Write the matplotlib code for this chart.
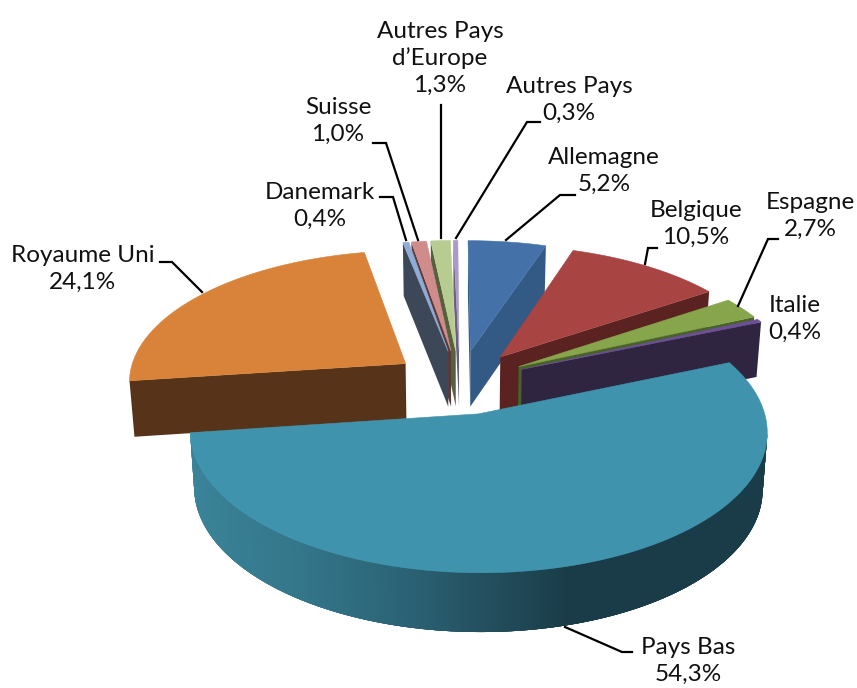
import numpy as np
import matplotlib
matplotlib.use("Agg")
import matplotlib.pyplot as plt
from matplotlib.colors import LinearSegmentedColormap
from matplotlib.patches import Polygon

plt.rcParams['font.family'] = ['Lato', 'DejaVu Sans']

names = ["Allemagne", "Belgique", "Espagne", "Italie", "Pays Bas", "Royaume Uni",
         "Danemark", "Suisse", "Autres Pays\nd\u2019Europe", "Autres Pays"]
values = [5.2, 10.5, 2.7, 0.4, 54.3, 24.1, 0.4, 1.0, 1.3, 0.3]
pct_text = ["5,2%", "10,5%", "2,7%", "0,4%", "54,3%", "24,1%", "0,4%", "1,0%", "1,3%", "0,3%"]
top_colors = ["#4472A8", "#A84442", "#87A54A", "#6E4F96", "#3F93AD", "#D8823A",
              "#8FACD6", "#CF8C8B", "#B7CC90", "#A99BC6"]
wall_colors = ["#325A84", "#5A2322", "#47622A", "#2F2540", "#1F5060", "#573419",
               "#3C4858", "#5C3A3A", "#55603F", "#6A6078"]
# gradient along the Pays Bas rim, left to right
rim_stops = [(0.0, "#3A8398"), (0.19, "#34768A"), (0.37, "#2B6376"),
             (0.52, "#234F5E"), (0.66, "#1A3C48"), (1.0, "#1A3C48")]
draw_order = [9, 8, 7, 6, 0, 1, 2, 3, 5, 4]

# leader lines and label centres, in image pixels
label_xy = [(604, 171), (696, 224), (810, 216), (795, 319), (688, 661),
            (83, 269), (320, 206), (338, 121), (440, 58), (569, 100)]
leaders = [
    [(575, 195), (560, 195), (506, 240)],
    [(657, 248), (648, 248), (645, 264)],
    [(778, 239), (768, 239), (738, 306)],
    [],
    [(632, 652), (622, 652), (565, 627)],
    [(160, 262), (172, 262), (202, 292)],
    [(380, 197), (393, 197), (406, 240)],
    [(373, 143), (386, 143), (418, 240)],
    [(441, 105), (441, 238)],
    [(540, 122), (527, 122), (456, 238)],
]

# projection of the tilted disc
CX, CY = 460, 382
R, H = 278, 131
PERSP = 0.122
EXPLODE = 0.245
DEPTH = 56
BOTTOM_SCALE = 0.985
START = -0.3


def project(u, v):
    s = 1 / (1 + PERSP * v)
    return CX + R * u * s, CY - H * v * s


def lower(u, v):
    s = 1 / (1 + PERSP * v)
    x, y = project(u, v)
    return CX + (x - CX) * BOTTOM_SCALE, y + DEPTH * s ** 0.35


fig = plt.figure(figsize=(8.57, 6.88), dpi=100)
ax = fig.add_axes([0, 0, 1, 1])
ax.set_xlim(0, 857)
ax.set_ylim(688, 0)
ax.axis("off")

rim_cmap = LinearSegmentedColormap.from_list("rim", rim_stops)
total = sum(values)
edges = START + np.cumsum([0] + values) * 360 / total

for i in draw_order:
    a0, a1 = np.radians(edges[i]), np.radians(edges[i + 1])
    mid = (a0 + a1) / 2
    u0, v0 = EXPLODE * np.sin(mid), EXPLODE * np.cos(mid)
    t = np.linspace(a0, a1, max(3, int(np.degrees(a1 - a0) * 4) + 2))
    us = np.concatenate([[u0], u0 + np.sin(t), [u0]])
    vs = np.concatenate([[v0], v0 + np.cos(t), [v0]])
    px, py = project(us, vs)
    lx, ly = lower(us, vs)
    z = 2 + draw_order.index(i) * 3
    n = len(us)
    for j in range(n - 1):
        # walls facing the viewer run right to left along the clockwise outline
        if px[j + 1] >= px[j]:
            continue
        # rim quads reach a few steps further so the next one hides the seam
        on_rim = 0 < j < n - 2
        k = min(j + 5, n - 2) if on_rim else j + 1
        quad = list(zip(px[j:k + 1], py[j:k + 1])) + list(zip(lx[j:k + 1][::-1], ly[j:k + 1][::-1]))
        c = wall_colors[i]
        if on_rim and names[i] == "Pays Bas":
            c = rim_cmap((px[j] - 190) / 577)
        ax.add_patch(Polygon(quad, closed=True, fc=c, ec="none", lw=0, zorder=z))
    ax.add_patch(Polygon(np.column_stack([px, py]), closed=True, fc=top_colors[i],
                         ec=top_colors[i], lw=0.4, zorder=z + 1))

for i, name in enumerate(names):
    x, y = label_xy[i]
    ax.text(x, y, name + "\n" + pct_text[i], ha="center", va="center", fontsize=17.5,
            color="#111111", linespacing=1.32, zorder=60)
    if leaders[i]:
        ax.plot(*zip(*leaders[i]), color="black", lw=1.6, solid_joinstyle="miter", zorder=59)

fig.savefig("out.png", dpi=100)
